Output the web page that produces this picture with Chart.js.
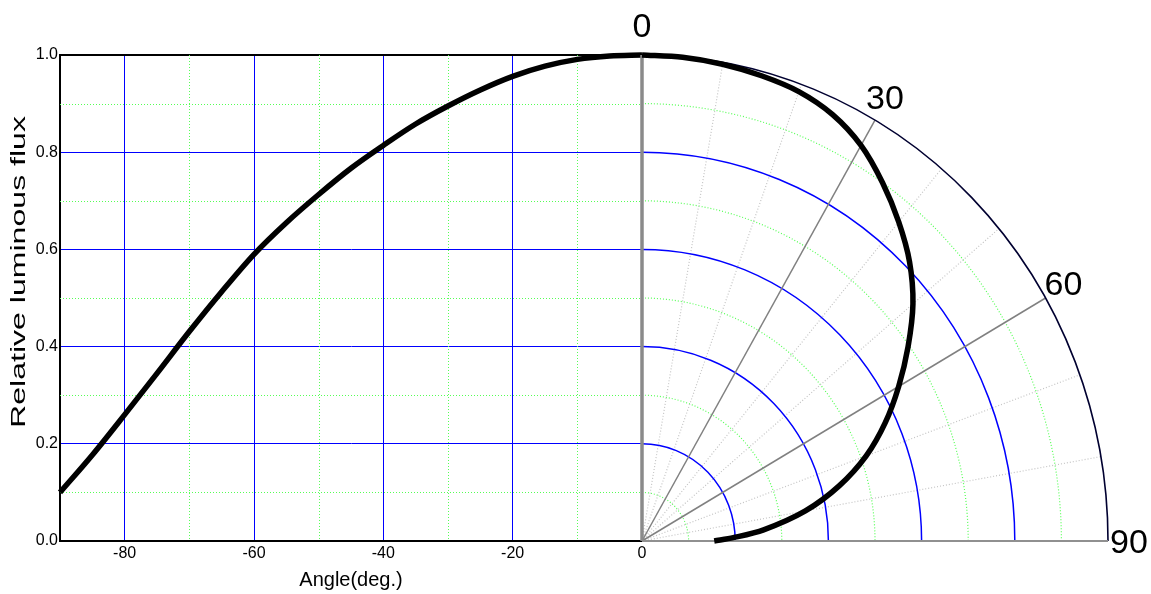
<!DOCTYPE html>
<html>
<head>
<meta charset="utf-8">
<script src="https://cdn.jsdelivr.net/npm/chart.js@4"></script>
<style>
  html, body { margin: 0; padding: 0; background: #fff; }
  #wrap { position: relative; width: 1151px; height: 594px; }
  canvas { position: absolute; left: 0; top: 0; }
</style>
</head>
<body>
<div id="wrap">
  <canvas id="flux" width="1151" height="594"></canvas>
  <canvas id="polar" width="1151" height="594"></canvas>
</div>
<script>
// left plot: relative flux against angle
const ANGLES_LEFT = [-90, -85, -80, -75, -70, -65, -60, -55, -50, -45, -40, -35, -30, -25, -20, -15, -10, -5, 0];
const FLUX_LEFT   = [0.10, 0.177, 0.26, 0.345, 0.431, 0.513, 0.59, 0.655, 0.713, 0.767, 0.814, 0.858, 0.895, 0.928, 0.956, 0.977, 0.991, 0.998, 1.0];

// right plot: polar view (degrees from axis)
const ANGLES_POLAR = [0, 5, 10, 15, 20, 25, 30, 35, 40, 45, 50, 55, 60, 65, 70, 75, 80, 85, 88, 90];
const FLUX_POLAR   = [1.0, 0.999, 0.996, 0.991, 0.984, 0.968, 0.94, 0.90, 0.857, 0.812, 0.759, 0.697, 0.636, 0.576, 0.512, 0.438, 0.356, 0.262, 0.196, 0.155];

const X_TICKS = [-80, -60, -40, -20, 0];
const Y_TICKS = [0, 0.2, 0.4, 0.6, 0.8, 1.0];
const X_MINOR = [-70, -50, -30, -10];
const Y_MINOR = [0.1, 0.3, 0.5, 0.7, 0.9];

const RINGS_MAJOR = [0.2, 0.4, 0.6, 0.8];
const RINGS_MINOR = [0.1, 0.3, 0.5, 0.7, 0.9];
const SPOKES_MINOR = [10, 20, 40, 50, 70, 80];
const SPOKES_MAJOR = [30, 60];
const POLAR_LABELS = ['0', '30', '60', '90'];

const Y_TITLE = 'Relative luminous flux';

const BLUE = '#0000ff';
const GREEN = '#55ff55';
const FONT = "'Liberation Sans', Arial, Helvetica, sans-serif";

Chart.defaults.font.family = FONT;
Chart.defaults.color = '#000';

// dotted minor grid on the left plot + the long vertical axis title
const minorGrid = {
    id: 'minorGrid',
    beforeDatasetsDraw(chart) {
        const { ctx, chartArea: a, scales: { x, y } } = chart;
        ctx.save();
        ctx.strokeStyle = GREEN;
        ctx.lineWidth = 1;
        ctx.setLineDash([1, 2]);
        X_MINOR.forEach(v => {
            const px = Math.round(x.getPixelForValue(v)) + 0.5;
            ctx.beginPath(); ctx.moveTo(px, a.top); ctx.lineTo(px, a.bottom); ctx.stroke();
        });
        Y_MINOR.forEach(v => {
            const py = Math.round(y.getPixelForValue(v)) + 0.5;
            ctx.beginPath(); ctx.moveTo(a.left, py); ctx.lineTo(a.right, py); ctx.stroke();
        });
        ctx.restore();
    },
    afterDraw(chart) {
        const { ctx } = chart;
        ctx.save();
        ctx.font = '21px ' + FONT;
        ctx.fillStyle = '#000';
        ctx.textAlign = 'center';
        ctx.textBaseline = 'middle';
        const w = ctx.measureText(Y_TITLE).width;
        ctx.translate(19, 272);
        ctx.rotate(-Math.PI / 2);
        ctx.scale(312 / w, 1);
        ctx.fillText(Y_TITLE, 0, 0);
        ctx.restore();
    }
};

new Chart(document.getElementById('flux').getContext('2d'), {
    type: 'scatter',
    data: {
        datasets: [{
            data: ANGLES_LEFT.map((a, i) => ({ x: a, y: FLUX_LEFT[i] })),
            showLine: true,
            borderColor: '#000',
            borderWidth: 5.5,
            pointRadius: 0,
            cubicInterpolationMode: 'monotone',
            clip: 8
        }]
    },
    options: {
        responsive: false,
        animation: false,
        layout: { padding: { left: 0, right: 509, top: 55, bottom: 0 } },
        plugins: { legend: { display: false }, tooltip: { enabled: false } },
        scales: {
            x: {
                type: 'linear', min: -90, max: 0,
                afterBuildTicks: s => { s.ticks = X_TICKS.map(v => ({ value: v })); },
                afterFit: s => { s.height = 53; },
                ticks: { font: { size: 16 }, color: '#000', padding: 3, maxRotation: 0, autoSkip: false },
                grid: {
                    drawTicks: false,
                    color: c => (c.tick && c.tick.value === 0) ? 'rgba(0,0,0,0)' : BLUE,
                    lineWidth: 1
                },
                border: { color: '#000', width: 2 },
                title: { display: true, text: 'Angle(deg.)', font: { size: 20 }, color: '#000', padding: { top: 0, bottom: 2 } }
            },
            y: {
                type: 'linear', min: 0, max: 1,
                afterBuildTicks: s => { s.ticks = Y_TICKS.map(v => ({ value: v })); },
                afterFit: s => { s.width = 60; },
                ticks: { font: { size: 16 }, color: '#000', padding: 2, callback: v => Number(v).toFixed(1) },
                grid: {
                    drawTicks: false,
                    color: c => {
                        const v = c.tick ? c.tick.value : null;
                        if (v === 1) return '#000';
                        if (v === 0) return 'rgba(0,0,0,0)';
                        return BLUE;
                    },
                    lineWidth: c => (c.tick && c.tick.value === 1) ? 2 : 1
                },
                border: { color: '#000', width: 2 }
            }
        }
    },
    plugins: [minorGrid]
});

// polar grid (quarter circle), drawn through the polar chart's scales
const polarGrid = {
    id: 'polarGrid',
    beforeDatasetsDraw(chart) {
        const { ctx, scales: { x, y } } = chart;
        const cx = x.getPixelForValue(0), cy = y.getPixelForValue(0);
        const ring = (r, color, w, dash) => {
            const rx = x.getPixelForValue(r) - cx, ry = cy - y.getPixelForValue(r);
            ctx.save();
            ctx.strokeStyle = color; ctx.lineWidth = w; ctx.setLineDash(dash);
            ctx.beginPath(); ctx.ellipse(cx, cy, rx, ry, 0, -Math.PI / 2, 0); ctx.stroke();
            ctx.restore();
        };
        const spoke = (deg, color, w, dash) => {
            const t = deg * Math.PI / 180;
            ctx.save();
            ctx.strokeStyle = color; ctx.lineWidth = w; ctx.setLineDash(dash);
            ctx.beginPath(); ctx.moveTo(cx, cy);
            ctx.lineTo(x.getPixelForValue(Math.sin(t)), y.getPixelForValue(Math.cos(t)));
            ctx.stroke();
            ctx.restore();
        };
        RINGS_MINOR.forEach(r => ring(r, GREEN, 1.2, [1, 2]));
        SPOKES_MINOR.forEach(d => spoke(d, '#c4c4c4', 1.2, [1, 2]));
        RINGS_MAJOR.forEach(r => ring(r, BLUE, 1.5, []));
        SPOKES_MAJOR.forEach(d => spoke(d, '#808080', 1.5, []));
        ring(1, '#000030', 1.6, []);
        spoke(90, '#909090', 2, []);
        spoke(0, '#8a8a8a', 3.5, []);
    },
    afterDraw(chart) {
        const { ctx, scales: { x, y } } = chart;
        const off = [[0, -18, 'center'], [-9, -11, 'left'], [-1, -3, 'left'], [2, 12, 'left']];
        ctx.save();
        ctx.font = '34px ' + FONT;
        ctx.fillStyle = '#000';
        ctx.textBaseline = 'alphabetic';
        POLAR_LABELS.forEach((lab, i) => {
            const t = Number(lab) * Math.PI / 180;
            const px = x.getPixelForValue(Math.sin(t)), py = y.getPixelForValue(Math.cos(t));
            ctx.textAlign = off[i][2];
            ctx.fillText(lab, px + off[i][0], py + off[i][1]);
        });
        ctx.restore();
    }
};

new Chart(document.getElementById('polar').getContext('2d'), {
    type: 'scatter',
    data: {
        datasets: [{
            data: ANGLES_POLAR.map((a, i) => ({
                x: FLUX_POLAR[i] * Math.sin(a * Math.PI / 180),
                y: FLUX_POLAR[i] * Math.cos(a * Math.PI / 180)
            })),
            showLine: true,
            borderColor: '#000',
            borderWidth: 5.5,
            pointRadius: 0,
            tension: 0.3,
            clip: 10
        }]
    },
    options: {
        responsive: false,
        animation: false,
        layout: { padding: { left: 642, right: 43, top: 55, bottom: 53 } },
        plugins: { legend: { display: false }, tooltip: { enabled: false } },
        scales: {
            x: { type: 'linear', min: 0, max: 1, display: false },
            y: { type: 'linear', min: 0, max: 1, display: false }
        }
    },
    plugins: [polarGrid]
});
</script>
</body>
</html>
